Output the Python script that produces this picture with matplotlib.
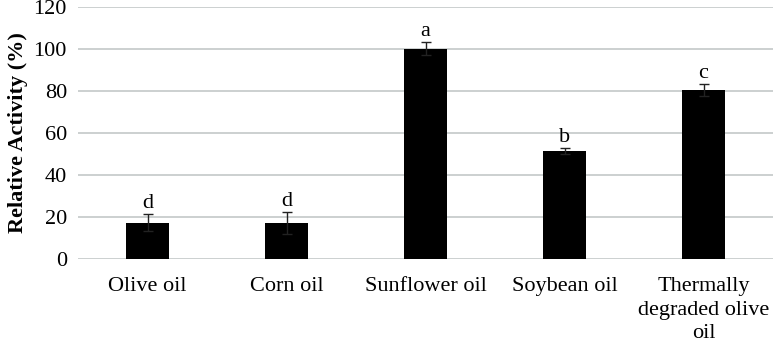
import numpy as np
import matplotlib
matplotlib.use("Agg")
from matplotlib import pyplot as plt

# data
categories = ["Olive oil", "Corn oil", "Sunflower oil", "Soybean oil",
              "Thermally\ndegraded olive\noil"]
activity = [17.2, 17.2, 100.0, 51.3, 80.2]
errors = [4.0, 5.3, 3.2, 1.6, 2.8]
letters = ["d", "d", "a", "b", "c"]

plt.rcParams['font.family'] = ['Liberation Serif', 'DejaVu Serif']

fig = plt.figure(figsize=(7.73, 3.43), dpi=100)
ax = fig.add_axes([0.101, 0.245, 0.899, 0.736])

x = np.arange(len(categories))
ax.bar(x, activity, width=0.31, color="black", zorder=3,
       yerr=errors, error_kw=dict(ecolor="#222222", elinewidth=1, capsize=3.5, capthick=1))

#letters above error bars
for xi, v, e, l in zip(x, activity, errors, letters):
    ax.text(xi, v + e + 0.5, l, ha="center", va="bottom", fontsize=16)

ax.set_xlim(-0.5, len(categories) - 0.5)
ax.set_ylim(0, 120)
ax.set_yticks(range(0, 121, 20))
ax.yaxis.grid(True, color="#c4c8c8", linewidth=1.2, zorder=0)
for s in ax.spines.values():
    s.set_visible(False)
ax.tick_params(length=0, labelsize=16)
ax.tick_params(axis="x", pad=13)
ax.tick_params(axis="y", pad=8)
ax.set_xticks(x)
ax.set_xticklabels(categories, linespacing=1.32)
ax.set_ylabel("Relative Activity (%)", fontsize=16, fontweight="bold", labelpad=4)

fig.savefig("out.png", dpi=100)
